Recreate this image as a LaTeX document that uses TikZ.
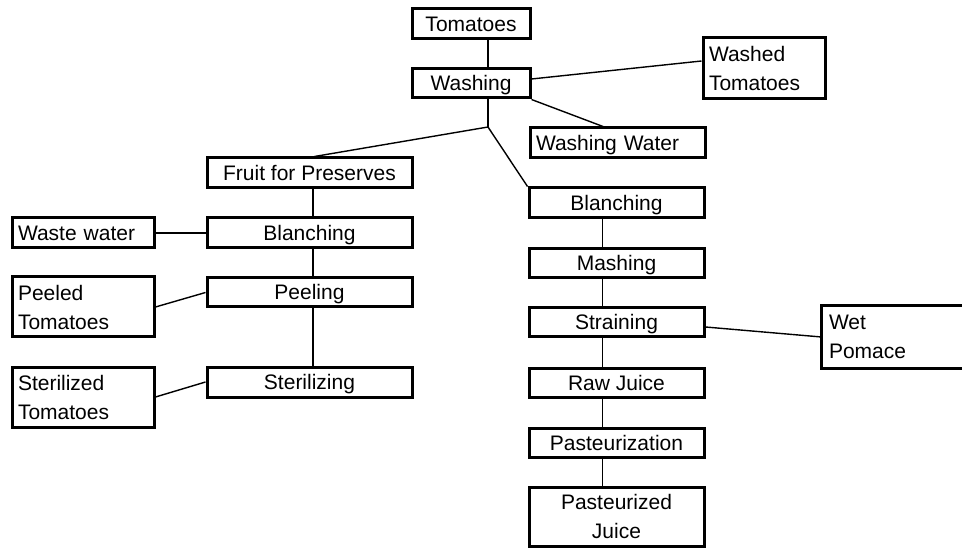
\documentclass[tikz,border=0pt]{standalone}
\usepackage{fontspec}
\setmainfont{Liberation Sans}
\begin{document}
\begin{tikzpicture}[x=1pt,y=-1pt,
  bx/.style={draw, line width=3pt, inner ysep=0pt, inner xsep=6pt,
    font=\fontsize{21}{29}\selectfont, anchor=center},
  one/.style={text height=15pt, text depth=0pt},
  ln/.style={line width=1.4pt}]
\useasboundingbox (0,0) rectangle (962,548);
\clip (0,0) rectangle (962,548);
% top
\node[bx,one,minimum width=118pt,minimum height=30pt] (tom) at (471,24) {Tomatoes};
\node[bx,one,minimum width=118pt,minimum height=29pt] (wash) at (471,83.5) {Washing};
\node[bx,minimum width=122pt,minimum height=61pt,text width=110pt,align=left] (washed) at (764,68.5) {Washed\\Tomatoes};
\node[bx,one,minimum width=175pt,minimum height=30pt,text width=163pt,align=left] (ww) at (617.5,143) {Washing Water};
% left column
\node[bx,one,minimum width=205pt,minimum height=30pt] (fruit) at (309.5,173) {Fruit for Preserves};
\node[bx,one,minimum width=205pt,minimum height=30pt] (blL) at (309.5,233) {Blanching};
\node[bx,one,minimum width=142pt,minimum height=30pt,text width=130pt,align=left] (waste) at (83,233) {Waste water};
\node[bx,one,minimum width=205pt,minimum height=29pt] (peel) at (309.5,292.5) {Peeling};
\node[bx,minimum width=142pt,minimum height=60pt,text width=130pt,align=left] (peeled) at (83,307) {Peeled\\Tomatoes};
\node[bx,one,minimum width=205pt,minimum height=30pt] (ster) at (309.5,382) {Sterilizing};
\node[bx,minimum width=142pt,minimum height=60pt,text width=130pt,align=left] (stered) at (83,397) {Sterilized\\Tomatoes};
% right column
\node[bx,one,minimum width=175pt,minimum height=30pt] (blR) at (616.5,203) {Blanching};
\node[bx,one,minimum width=175pt,minimum height=29pt] (mash) at (616.5,263.5) {Mashing};
\node[bx,one,minimum width=175pt,minimum height=29pt] (strain) at (616.5,322.5) {Straining};
\node[bx,one,minimum width=175pt,minimum height=29pt] (raw) at (616.5,382.5) {Raw Juice};
\node[bx,one,minimum width=175pt,minimum height=29pt] (past) at (616.5,442.5) {Pasteurization};
\node[bx,minimum width=175pt,minimum height=59pt,text width=163pt,align=center] (pj) at (616.5,516.5) {Pasteurized\\Juice};
\node[bx,draw=none,minimum width=200pt,minimum height=60pt,text width=188pt,align=left] (wet) at (923,337) {Wet\\Pomace};
\draw[line width=3pt] (wet.north east) -- (wet.north west) -- (wet.south west) -- (wet.south east);
% connectors
\coordinate (j) at (488,127);
\draw[ln] ([xshift=17pt]tom.south) -- ([xshift=17pt]wash.north);
\draw[ln] ([yshift=4.5pt]wash.east) -- ([yshift=7.5pt]washed.west);
\draw[ln] (wash.south east) -- ([xshift=-14.5pt]ww.north);
\draw[ln] ([xshift=17pt]wash.south) -- (j);
\draw[ln] (j) -- ([xshift=5pt]fruit.north);
\draw[ln] (j) -- (blR.north west);
\draw[ln] ([xshift=3.5pt]fruit.south) -- ([xshift=3.5pt]blL.north);
\draw[ln] ([xshift=3.5pt]blL.south) -- ([xshift=3.5pt]peel.north);
\draw[ln] ([xshift=3.5pt]peel.south) -- ([xshift=3.5pt]ster.north);
\draw[ln] (waste.east) -- (blL.west);
\draw[ln] (peeled.east) -- (peel.west);
\draw[ln] (stered.east) -- (ster.west);
\draw[ln] ([xshift=-14pt]blR.south) -- ([xshift=-14pt]mash.north);
\draw[ln] ([xshift=-14pt]mash.south) -- ([xshift=-14pt]strain.north);
\draw[ln] ([xshift=-14pt]strain.south) -- ([xshift=-14pt]raw.north);
\draw[ln] ([xshift=-14pt]raw.south) -- ([xshift=-14pt]past.north);
\draw[ln] ([xshift=-14pt]past.south) -- ([xshift=-14pt]pj.north);
\draw[ln] ([yshift=-4.5pt]strain.east) -- (wet.west);
\end{tikzpicture}
\end{document}
